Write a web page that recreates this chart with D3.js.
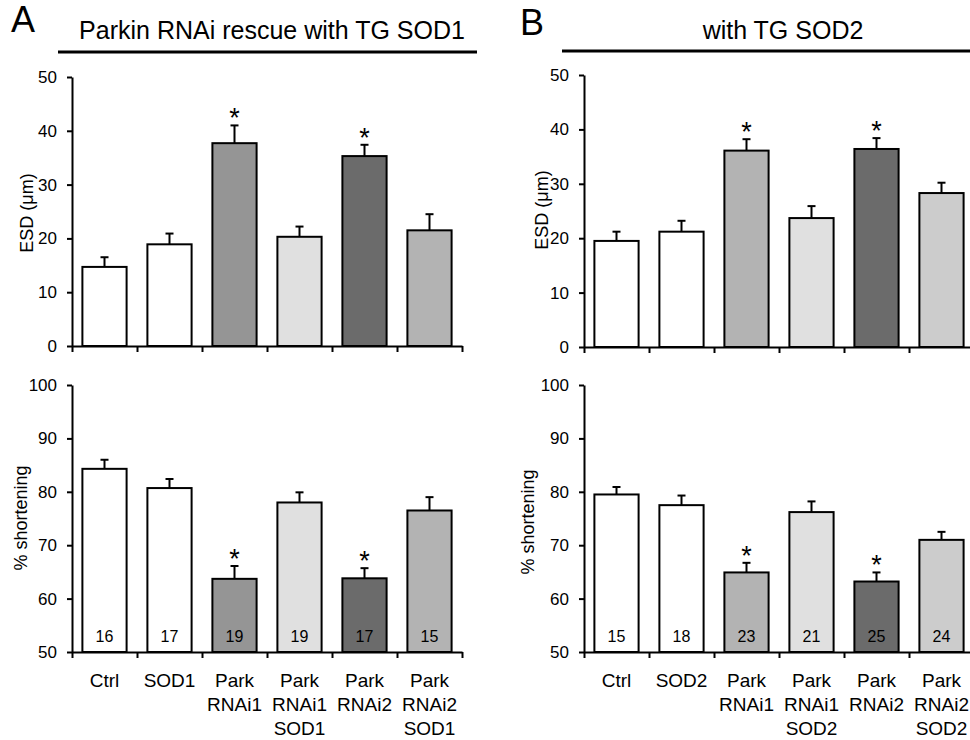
<!DOCTYPE html>
<html>
<head>
<meta charset="utf-8">
<script src="https://d3js.org/d3.v7.min.js"></script>
<style>
  body { margin: 0; background: #fff; }
  text { font-family: Arial, "Liberation Sans", sans-serif; fill: #000; }
</style>
</head>
<body>
<div id="my_dataviz"></div>
<script>
    // categories (multi-line labels)
    var categoriesA = [["Ctrl"], ["SOD1"], ["Park", "RNAi1"], ["Park", "RNAi1", "SOD1"], ["Park", "RNAi2"], ["Park", "RNAi2", "SOD1"]];
    var categoriesB = [["Ctrl"], ["SOD2"], ["Park", "RNAi1"], ["Park", "RNAi1", "SOD2"], ["Park", "RNAi2"], ["Park", "RNAi2", "SOD2"]];

    // ESD (um), mean and SEM
    var esdA = [14.7, 18.9, 37.7, 20.3, 35.3, 21.5];
    var esdErrA = [1.8, 2.0, 3.3, 1.9, 2.1, 3.0];
    var esdB = [19.5, 21.2, 36.1, 23.7, 36.4, 28.3];
    var esdErrB = [1.7, 2.0, 2.1, 2.2, 2.0, 1.9];

    // % shortening, mean and SEM
    var shortA = [84.3, 80.7, 63.7, 78.0, 63.8, 76.5];
    var shortErrA = [1.7, 1.7, 2.4, 1.9, 1.9, 2.5];
    var shortB = [79.5, 77.5, 64.9, 76.2, 63.2, 71.0];
    var shortErrB = [1.4, 1.8, 1.8, 2.0, 1.7, 1.5];

    // n per group
    var countsA = [16, 17, 19, 19, 17, 15];
    var countsB = [15, 18, 23, 21, 25, 24];

    // significance markers
    var sigA = [false, false, true, false, true, false];
    var sigB = [false, false, true, false, true, false];

    var esdTicks = [0, 10, 20, 30, 40, 50];
    var shortTicks = [50, 60, 70, 80, 90, 100];

    var fillsA = ["#ffffff", "#ffffff", "#959595", "#e0e0e0", "#6b6b6b", "#b3b3b3"];
    var fillsB = ["#ffffff", "#ffffff", "#b3b3b3", "#e0e0e0", "#6b6b6b", "#cccccc"];

    var W = 970, H = 740;
    var svg = d3.select("#my_dataviz")
        .append("svg")
        .attr("width", W)
        .attr("height", H);

    // headers
    svg.append("text").attr("x", 11).attr("y", 32).style("font-size", "36px").text("A");
    svg.append("text").attr("x", 272).attr("y", 39).attr("text-anchor", "middle")
        .style("font-size", "25px").text("Parkin RNAi rescue with TG SOD1");
    svg.append("line").attr("x1", 58).attr("x2", 477).attr("y1", 52).attr("y2", 52)
        .attr("stroke", "#000").attr("stroke-width", 3);

    svg.append("text").attr("x", 520).attr("y", 35).style("font-size", "36px").text("B");
    svg.append("text").attr("x", 783).attr("y", 39).attr("text-anchor", "middle")
        .style("font-size", "25px").text("with TG SOD2");
    svg.append("line").attr("x1", 562).attr("x2", 970).attr("y1", 51).attr("y2", 51)
        .attr("stroke", "#000").attr("stroke-width", 3);

    function drawPanel(opt) {
        var g = svg.append("g").attr("transform", "translate(" + opt.left + ",0)");
        var plotW = 390;
        var x = d3.scaleBand()
            .domain(d3.range(opt.values.length))
            .range([0, plotW])
            .paddingInner(0.32)
            .paddingOuter(0.16);
        var xt = d3.scaleLinear().domain([0, opt.values.length]).range([0, plotW]);
        var y = d3.scaleLinear().domain(opt.domain).range(opt.range);

        var data = opt.values.map(function (v, i) {
            return { i: i, v: v, e: opt.errs[i], fill: opt.fills[i], sig: opt.sig[i], n: opt.counts ? opt.counts[i] : null };
        });

        // bars
        g.selectAll("rect.bar")
            .data(data)
            .enter()
            .append("rect")
            .attr("class", "bar")
            .attr("x", function (d) { return x(d.i); })
            .attr("y", function (d) { return y(d.v); })
            .attr("width", x.bandwidth())
            .attr("height", function (d) { return y(opt.domain[0]) - y(d.v); })
            .attr("fill", function (d) { return d.fill; })
            .attr("stroke", "#000")
            .attr("stroke-width", 2);

        // error bars (upper only)
        var cx = function (d) { return x(d.i) + x.bandwidth() / 2; };
        g.selectAll("line.err")
            .data(data)
            .enter()
            .append("line")
            .attr("x1", cx).attr("x2", cx)
            .attr("y1", function (d) { return y(d.v); })
            .attr("y2", function (d) { return y(d.v + d.e); })
            .attr("stroke", "#000").attr("stroke-width", 2);
        g.selectAll("line.cap")
            .data(data)
            .enter()
            .append("line")
            .attr("x1", function (d) { return cx(d) - 4; })
            .attr("x2", function (d) { return cx(d) + 4; })
            .attr("y1", function (d) { return y(d.v + d.e); })
            .attr("y2", function (d) { return y(d.v + d.e); })
            .attr("stroke", "#000").attr("stroke-width", 2);

        // asterisks
        g.selectAll("text.sig")
            .data(data.filter(function (d) { return d.sig; }))
            .enter()
            .append("text")
            .attr("x", cx)
            .attr("y", function (d) { return y(d.v + d.e) + 2; })
            .attr("text-anchor", "middle")
            .style("font-size", "27px")
            .text("*");

        // counts inside bars
        if (opt.counts) {
            g.selectAll("text.n")
                .data(data)
                .enter()
                .append("text")
                .attr("x", cx)
                .attr("y", 642)
                .attr("text-anchor", "middle")
                .style("font-size", "16px")
                .text(function (d) { return d.n; });
        }

        // y axis
        var ya = g.append("g")
            .call(d3.axisLeft(y).tickValues(opt.ticks).tickSize(5).tickSizeOuter(0).tickPadding(10));
        ya.select(".domain").attr("stroke-width", 2);
        ya.selectAll(".tick line").attr("stroke-width", 2);
        ya.selectAll("text").style("font-size", "17px");

        // x axis
        var xa = g.append("g")
            .attr("transform", "translate(0," + y(opt.domain[0]) + ")")
            .call(d3.axisBottom(xt).tickValues(d3.range(opt.values.length + 1)).tickSize(6).tickSizeOuter(0).tickFormat(""));
        xa.select(".domain").attr("stroke-width", 2);
        xa.selectAll(".tick line").attr("stroke-width", 2);

        // y label
        svg.append("text")
            .attr("transform", "translate(" + opt.ylabX + "," + opt.ylabY + ") rotate(-90)")
            .attr("text-anchor", "middle")
            .style("font-size", "18px")
            .text(opt.ylab);

        // category labels
        if (opt.cats) {
            opt.cats.forEach(function (lines, i) {
                var t = g.append("text")
                    .attr("x", x(i) + x.bandwidth() / 2)
                    .attr("y", 687)
                    .attr("text-anchor", "middle")
                    .style("font-size", "19px");
                lines.forEach(function (l, k) {
                    t.append("tspan")
                        .attr("x", x(i) + x.bandwidth() / 2)
                        .attr("dy", k === 0 ? 0 : 24)
                        .text(l);
                });
            });
        }
    }

    drawPanel({ left: 72, values: esdA, errs: esdErrA, fills: fillsA, sig: sigA, domain: [0, 50], range: [346, 77],
        ticks: esdTicks, ylab: "ESD (\u03bcm)", ylabX: 33, ylabY: 213 });
    drawPanel({ left: 584, values: esdB, errs: esdErrB, fills: fillsB, sig: sigB, domain: [0, 50], range: [347, 75],
        ticks: esdTicks, ylab: "ESD (\u03bcm)", ylabX: 548, ylabY: 210 });
    drawPanel({ left: 72, values: shortA, errs: shortErrA, fills: fillsA, sig: sigA, domain: [50, 100], range: [652, 385],
        ticks: shortTicks, ylab: "% shortening", ylabX: 27, ylabY: 518, counts: countsA, cats: categoriesA });
    drawPanel({ left: 584, values: shortB, errs: shortErrB, fills: fillsB, sig: sigB, domain: [50, 100], range: [652, 385],
        ticks: shortTicks, ylab: "% shortening", ylabX: 534, ylabY: 522, counts: countsB, cats: categoriesB });
</script>
</body>
</html>
